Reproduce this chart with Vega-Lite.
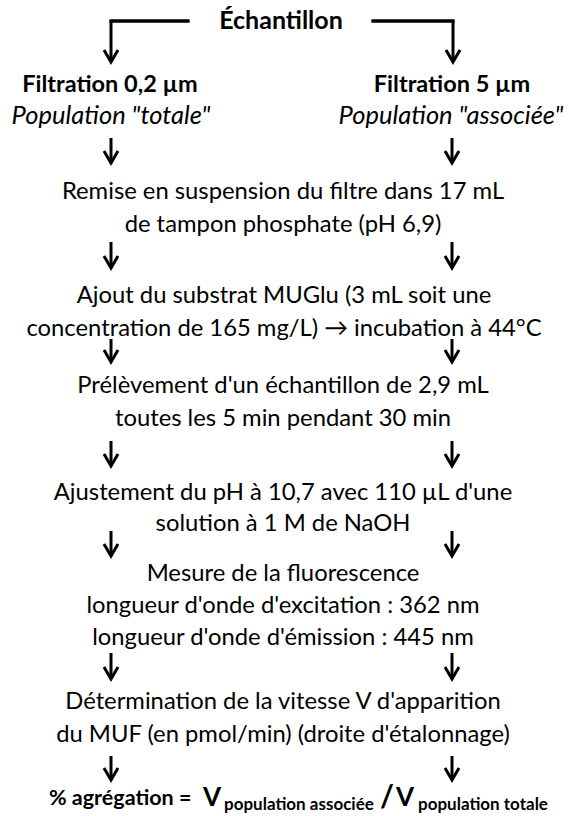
{
  "$schema": "https://vega.github.io/schema/vega-lite/v6.json",
  "width": 569,
  "height": 816,
  "padding": 0,
  "autosize": {"type": "none"},
  "background": "white",
  "config": {"view": {"stroke": null}, "axis": {"disable": true}},
  "datasets": {
    "normal": [
      {"x": 283, "y": 192, "t": "Remise en suspension du filtre dans 17 mL"},
      {"x": 283, "y": 225, "t": "de tampon phosphate (pH 6,9)"},
      {"x": 284, "y": 296, "t": "Ajout du substrat MUGlu (3 mL soit une"},
      {"x": 284, "y": 329, "t": "concentration de 165 mg/L) → incubation à 44°C"},
      {"x": 283, "y": 386, "t": "Prélèvement d'un échantillon de 2,9 mL"},
      {"x": 283, "y": 419, "t": "toutes les 5 min pendant 30 min"},
      {"x": 283, "y": 493, "t": "Ajustement du pH à 10,7 avec 110 µL d'une"},
      {"x": 283, "y": 524, "t": "solution à 1 M de NaOH"},
      {"x": 283, "y": 574, "t": "Mesure de la fluorescence"},
      {"x": 283, "y": 606, "t": "longueur d'onde d'excitation : 362 nm"},
      {"x": 283, "y": 638, "t": "longueur d'onde d'émission : 445 nm"},
      {"x": 283, "y": 702, "t": "Détermination de la vitesse V d'apparition"},
      {"x": 283, "y": 735, "t": "du MUF (en pmol/min) (droite d'étalonnage)"}
    ],
    "title": [
      {"x": 281, "y": 21, "t": "Échantillon"}
    ],
    "bold": [
      {"x": 110, "y": 85, "t": "Filtration 0,2 µm"},
      {"x": 452, "y": 85, "t": "Filtration 5 µm"}
    ],
    "italic": [
      {"x": 111, "y": 116, "t": "Population \"totale\""},
      {"x": 451, "y": 116, "t": "Population \"associée\""}
    ],
    "formulaMain": [
      {"x": 49, "y": 805, "t": "% agrégation ="}
    ],
    "formulaV": [
      {"x": 203, "y": 806, "t": "V"},
      {"x": 396, "y": 806, "t": "V"}
    ],
    "formulaSlash": [
      {"x": 380, "y": 807, "t": "/"}
    ],
    "formulaSub": [
      {"x": 224, "y": 810, "t": "population associée"},
      {"x": 418, "y": 810, "t": "population totale"}
    ],
    "segments": [
      {"x": 111, "y": 21, "x2": 188, "y2": 21},
      {"x": 373, "y": 21, "x2": 453, "y2": 21}
    ],
    "arrows": [
      {"x": 111, "y": 21, "y2": 62},
      {"x": 453, "y": 21, "y2": 62},
      {"x": 111, "y": 138, "y2": 163},
      {"x": 452, "y": 138, "y2": 163},
      {"x": 111, "y": 242, "y2": 268},
      {"x": 452, "y": 242, "y2": 268},
      {"x": 111, "y": 339, "y2": 362},
      {"x": 452, "y": 339, "y2": 362},
      {"x": 111, "y": 441, "y2": 466},
      {"x": 452, "y": 441, "y2": 466},
      {"x": 111, "y": 531, "y2": 556},
      {"x": 452, "y": 531, "y2": 556},
      {"x": 111, "y": 653, "y2": 679},
      {"x": 452, "y": 653, "y2": 679},
      {"x": 111, "y": 756, "y2": 780},
      {"x": 452, "y": 756, "y2": 780}
    ]
  },
  "encoding": {
    "x": {"field": "x", "type": "quantitative", "scale": {"domain": [0, 569]}, "axis": null},
    "y": {"field": "y", "type": "quantitative", "scale": {"domain": [0, 816], "reverse": true}, "axis": null}
  },
  "layer": [
    {
      "data": {"name": "segments"},
      "mark": {"type": "rule", "stroke": "black", "strokeWidth": 3.3, "strokeCap": "square"},
      "encoding": {"x2": {"field": "x2"}, "y2": {"field": "y2"}}
    },
    {
      "data": {"name": "arrows"},
      "mark": {"type": "rule", "stroke": "black", "strokeWidth": 3},
      "encoding": {"y2": {"field": "y2"}}
    },
    {
      "data": {"name": "arrows"},
      "mark": {"type": "point", "shape": "M-1,-1.7L0,0L1,-1.7", "filled": false, "stroke": "black", "strokeWidth": 3, "size": 196, "opacity": 1},
      "encoding": {"y": {"field": "y2", "type": "quantitative"}}
    },
    {
      "data": {"name": "normal"},
      "mark": {"type": "text", "font": "Lato", "fontSize": 23.8, "align": "center", "baseline": "middle", "color": "black"},
      "encoding": {"text": {"field": "t"}}
    },
    {
      "data": {"name": "title"},
      "mark": {"type": "text", "font": "Lato", "fontSize": 25, "fontWeight": "bold", "align": "center", "baseline": "middle", "color": "black"},
      "encoding": {"text": {"field": "t"}}
    },
    {
      "data": {"name": "bold"},
      "mark": {"type": "text", "font": "Lato", "fontSize": 23.5, "fontWeight": "bold", "align": "center", "baseline": "middle", "color": "black"},
      "encoding": {"text": {"field": "t"}}
    },
    {
      "data": {"name": "italic"},
      "mark": {"type": "text", "font": "Lato", "fontSize": 25.5, "fontStyle": "italic", "align": "center", "baseline": "middle", "color": "black"},
      "encoding": {"text": {"field": "t"}}
    },
    {
      "data": {"name": "formulaMain"},
      "mark": {"type": "text", "font": "Lato", "fontSize": 21.5, "fontWeight": "bold", "align": "left", "baseline": "alphabetic", "color": "black"},
      "encoding": {"text": {"field": "t"}}
    },
    {
      "data": {"name": "formulaV"},
      "mark": {"type": "text", "font": "Lato", "fontSize": 26, "fontWeight": "bold", "align": "left", "baseline": "alphabetic", "color": "black"},
      "encoding": {"text": {"field": "t"}}
    },
    {
      "data": {"name": "formulaSlash"},
      "mark": {"type": "text", "font": "Lato", "fontSize": 30, "fontWeight": "bold", "align": "left", "baseline": "alphabetic", "color": "black"},
      "encoding": {"text": {"field": "t"}}
    },
    {
      "data": {"name": "formulaSub"},
      "mark": {"type": "text", "font": "Lato", "fontSize": 17, "fontWeight": "bold", "align": "left", "baseline": "alphabetic", "color": "black"},
      "encoding": {"text": {"field": "t"}}
    }
  ]
}
